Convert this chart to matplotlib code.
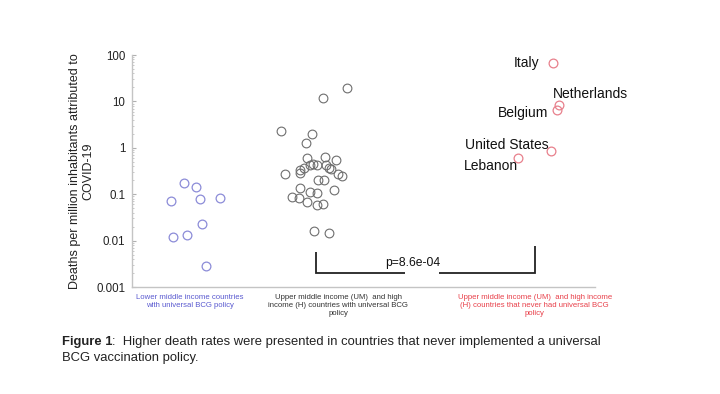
import matplotlib
matplotlib.use("Agg")
import matplotlib.pyplot as plt
from matplotlib.text import Annotation
from matplotlib.ticker import LogLocator, FixedLocator, FixedFormatter

plt.rcParams['font.family'] = ['Liberation Sans', 'DejaVu Sans']

# ---- data (x = horizontal position in % of the axis width, y = deaths per million) ----
lower_x = [11.2, 13.8, 8.5, 14.6, 18.9, 15.1, 8.8, 11.9, 16.0]
lower_y = [0.176, 0.14, 0.071, 0.077, 0.084, 0.023, 0.012, 0.0135, 0.0029]

bcg_x = [46.4, 41.2, 32.1, 38.8, 37.6, 37.8, 41.7, 44.1, 33.0, 36.3, 37.1, 36.3,
         38.4, 39.0, 40.0, 42.0, 42.5, 43.0, 40.1, 41.4, 44.6, 45.3, 36.3, 38.5,
         40.0, 43.6, 34.6, 36.0, 37.7, 40.0, 41.3, 39.4, 42.6]
bcg_y = [19.4, 11.8, 2.32, 2.0, 1.26, 0.60, 0.63, 0.54, 0.275, 0.33, 0.358, 0.289,
         0.416, 0.437, 0.416, 0.43, 0.376, 0.353, 0.204, 0.207, 0.266, 0.241, 0.135, 0.114,
         0.107, 0.123, 0.088, 0.082, 0.068, 0.058, 0.060, 0.016, 0.0145]

never_names = ['Italy', 'Netherlands', 'Belgium', 'United States', 'Lebanon']
never_x = [90.9, 92.2, 91.9, 90.6, 83.4]
never_y = [66.9, 8.45, 6.6, 0.85, 0.60]

categories = ["Lower middle income countries\nwith universal BCG policy",
              "Upper middle income (UM)  and high\nincome (H) countries with universal BCG\npolicy",
              "Upper middle income (UM)  and high income\n(H) countries that never had universal BCG\npolicy"]
category_pos = [12.5, 44.5, 87.0]
category_colors = ['#5a5ad0', '#333333', '#e8404a']

y_ticks = [0.001, 0.01, 0.1, 1, 10, 100]
y_ticklabels = ['0.001', '0.01', '0.1', '1', '10', '100']

p_text = "p=8.6e-04"

# ---- figure ----
fig = plt.figure(figsize=(7.2, 3.94), dpi=100)
ax = fig.add_axes([132/720, 1 - 287/394, 463/720, 232/394])
ax.set_yscale('log')
ax.set_ylim(0.001, 100)
ax.set_xlim(0, 100)

ms = 6.3
ax.plot(lower_x, lower_y, 'o', ms=ms, mfc='none', mec='#8c8cd8', mew=0.9, ls='none')
ax.plot(bcg_x, bcg_y, 'o', ms=ms, mfc='none', mec='#6e6e6e', mew=0.8, ls='none')
ax.plot(never_x, never_y, 'o', ms=ms, mfc='none', mec='#e8808c', mew=0.9, ls='none')

# country labels: (dx, dy) in points, horizontal alignment
label_style = {
    'Italy': (-10, 0, 'right'),
    'Netherlands': (23, 8, 'center'),
    'Belgium': (-7, -2, 'right'),
    'United States': (-2, 4.5, 'right'),
    'Lebanon': (0, -6, 'right'),
}
for name, x, y in zip(never_names, never_x, never_y):
    dx, dy, ha = label_style[name]
    ax.annotate(name, (x, y), xytext=(dx, dy), textcoords='offset points',
                ha=ha, va='center', fontsize=10, color='#111111')

# significance bracket
lx, rx = 39.7, 87.0
ax.plot([lx, lx, 59.0], [0.00574, 0.00202, 0.00202], color='#222222', lw=1.3,
        solid_capstyle='butt', solid_joinstyle='miter')
ax.plot([66.3, rx, rx], [0.00202, 0.00202, 0.00773], color='#222222', lw=1.3,
        solid_capstyle='butt', solid_joinstyle='miter')
ax.text(60.6, 0.00333, p_text, ha='center', va='center', fontsize=8.7, color='#111111')

# spines & ticks
for s in ['top', 'right']:
    ax.spines[s].set_visible(False)
ax.spines['left'].set_color('#c4c4c4')
ax.spines['bottom'].set_color('#c4c4c4')
ax.spines['left'].set_linewidth(1.0)
ax.spines['bottom'].set_linewidth(1.0)

ax.yaxis.set_major_locator(FixedLocator(y_ticks))
ax.yaxis.set_major_formatter(FixedFormatter(y_ticklabels))
ax.yaxis.set_minor_locator(LogLocator(base=10, subs=range(2, 10)))
ax.tick_params(axis='y', which='major', direction='in', length=3, color='#b0b0b0',
               labelsize=8.3, pad=5, labelcolor='#222222')
ax.tick_params(axis='y', which='minor', direction='in', length=1.6, color='#c0c0c0')

ax.set_xticks(category_pos)
ax.set_xticklabels(categories, fontsize=5.6, linespacing=1.2)
ax.tick_params(axis='x', length=0, pad=5)
for lbl, c in zip(ax.get_xticklabels(), category_colors):
    lbl.set_color(c)

ax.set_ylabel("Deaths per million inhabitants attributed to\nCOVID-19", fontsize=9,
              color='#222222', linespacing=1.2, labelpad=1)

# caption
cap_fs = 9.4
cap1 = fig.text(62/720, 1 - 342/394, "Figure 1", fontsize=cap_fs, fontweight='bold',
                ha='left', va='center', color='#222222')
fig.add_artist(Annotation(":  Higher death rates were presented in countries that never implemented a universal",
                          xy=(1, 0.5), xycoords=cap1, ha='left', va='center',
                          fontsize=cap_fs, color='#222222'))
fig.text(62/720, 1 - 358/394, "BCG vaccination policy.",
         fontsize=cap_fs, ha='left', va='center', color='#222222')

fig.savefig('out.png', dpi=100)
